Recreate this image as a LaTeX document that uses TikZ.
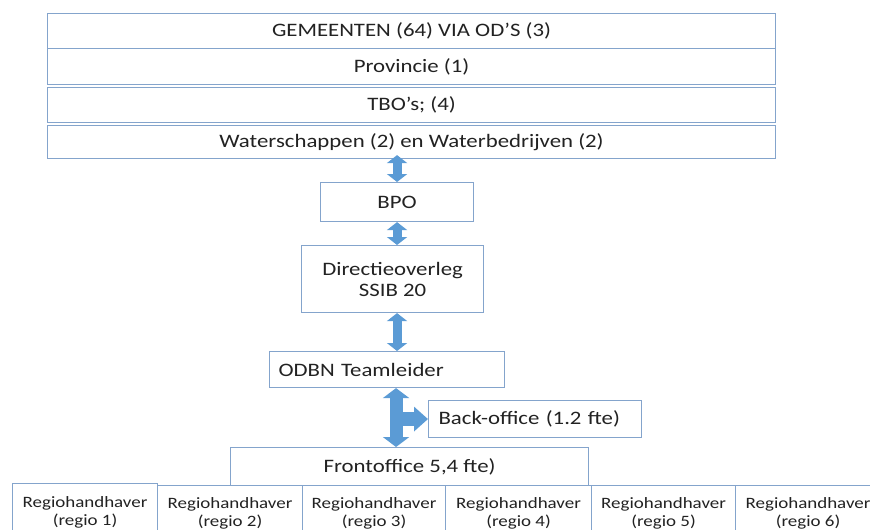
\documentclass[tikz,border=0pt]{standalone}
\usepackage{fontspec}
\setmainfont{Carlito}[FakeStretch=1.2]
\usetikzlibrary{arrows.meta}
\definecolor{boxline}{HTML}{84A4CC}
\definecolor{arrowblue}{HTML}{5B9BD5}
\definecolor{txt}{HTML}{222222}
\begin{document}
\begin{tikzpicture}[x=1pt,y=-1pt,
  box/.style={draw=boxline, line width=1.1pt, fill=white, rectangle, inner sep=0pt, anchor=north west, text=txt, font=\fontsize{19}{21}\selectfont},
  rbox/.style={box, font=\fontsize{15.8}{17.5}\selectfont, align=center},
  dbl/.style={arrowblue, line width=9pt, {Triangle[width=20pt,length=8pt]}-{Triangle[width=20pt,length=8pt]}},
  bigdbl/.style={arrowblue, line width=13pt, {Triangle[width=26pt,length=10pt]}-{Triangle[width=26pt,length=10pt]}},
  branch/.style={arrowblue, line width=14pt, -{Triangle[width=24pt,length=14pt]}}]
\useasboundingbox (0,0) rectangle (870,530);
\node[box, minimum width=728pt, minimum height=35pt] (gem) at (47,13) {GEMEENTEN (64) VIA OD’S (3)};
\node[box, minimum width=728pt, minimum height=36pt] (prov) at (47,48) {Provincie (1)};
\node[box, minimum width=728pt, minimum height=35pt] (tbo) at (47,87) {TBO’s; (4)};
\node[box, minimum width=728pt, minimum height=33pt] (wat) at (47,125) {Waterschappen (2) en Waterbedrijven (2)};
\node[box, minimum width=153pt, minimum height=39pt] (bpo) at (320,182) {BPO};
\node[box, minimum width=182pt, minimum height=67pt, align=center] (dir) at (301,245) {Directieoverleg\\SSIB 20};
\node[box, text width=217pt, inner xsep=9pt, minimum height=36pt, align=left] (odbn) at (269,351) {ODBN Teamleider};
\node[box, text width=193pt, inner xsep=10pt, minimum height=37pt, align=left] (back) at (428,400) {Back-office (1.2 fte)};
\node[box, minimum width=358pt, minimum height=38pt] (front) at (230,447) {Frontoffice 5,4 fte)};
\node[rbox, minimum width=145pt, minimum height=58pt] (r1) at (12,483) {Regiohandhaver\\(regio 1)};
\node[rbox, minimum width=145pt, minimum height=56pt] (r2) at (157,485) {Regiohandhaver\\(regio 2)};
\node[rbox, minimum width=143pt, minimum height=56pt] (r3) at (302,485) {Regiohandhaver\\(regio 3)};
\node[rbox, minimum width=146pt, minimum height=56pt] (r4) at (445,485) {Regiohandhaver\\(regio 4)};
\node[rbox, minimum width=144pt, minimum height=56pt] (r5) at (591,485) {Regiohandhaver\\(regio 5)};
\node[rbox, minimum width=145pt, minimum height=56pt] (r6) at (735,485) {Regiohandhaver\\(regio 6)};
\coordinate (a1) at ([yshift=4pt]wat.south -| bpo.north);
\draw[dbl] (a1) -- (bpo.north);
\draw[dbl] (bpo.south) -- (dir.north -| bpo.north);
\draw[dbl] (dir.south -| bpo.north) -- (odbn.north -| bpo.north);
\coordinate (br) at (bpo.north |- back.west);
\draw[branch] (br) -- (back.west);
\draw[bigdbl] ([xshift=-1pt]odbn.south -| bpo.north) -- ([xshift=-1pt]front.north -| bpo.north);
\end{tikzpicture}
\end{document}
